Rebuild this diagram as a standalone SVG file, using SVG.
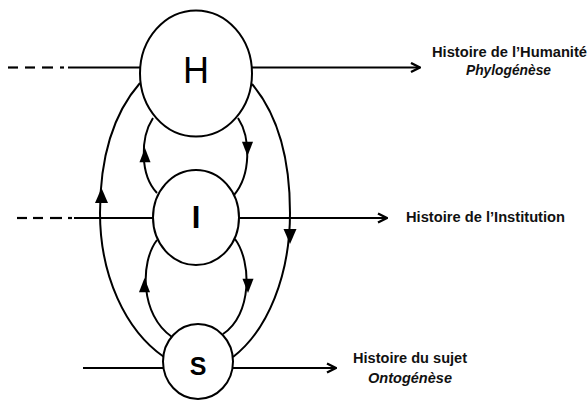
<svg xmlns="http://www.w3.org/2000/svg" width="587" height="400" viewBox="0 0 587 400">
<defs>
<style>
.ln{fill:none;stroke:#000;stroke-width:2}
.dash{fill:none;stroke:#000;stroke-width:2.2}
.node{fill:#fff;stroke:#000;stroke-width:2}
.ah{fill:#000;stroke:none}
.lbl{font-family:"Liberation Sans",Arial,sans-serif;font-weight:bold;font-size:14px;fill:#111}
.it{font-style:italic}
.big{font-family:"Liberation Sans",Arial,sans-serif;fill:#000;text-anchor:middle}
</style>
<marker id="open" viewBox="0 0 12 12" refX="11" refY="6" markerWidth="12" markerHeight="12" markerUnits="userSpaceOnUse" orient="auto">
<path d="M2,1.5 L11,6 L2,10.5" fill="none" stroke="#000" stroke-width="2.4"/>
</marker>
<path id="up" d="M0,0 L6.5,15 L-6.5,15 Z"/>
</defs>
<g id="connectors">
<line class="dash" x1="8" y1="67.5" x2="18" y2="67.5"/>
<line class="dash" x1="25" y1="67.5" x2="35" y2="67.5"/>
<line class="dash" x1="42" y1="67.5" x2="53" y2="67.5"/>
<line class="dash" x1="60" y1="67.5" x2="64" y2="67.5"/>
<line class="ln" x1="68" y1="67.5" x2="140" y2="67.5"/>
<line class="ln" x1="252" y1="67.5" x2="420" y2="67.5" marker-end="url(#open)"/>
<line class="dash" x1="17" y1="218" x2="27" y2="218"/>
<line class="dash" x1="33" y1="218" x2="43" y2="218"/>
<line class="dash" x1="50" y1="218" x2="62" y2="218"/>
<line class="dash" x1="68" y1="218" x2="72" y2="218"/>
<line class="ln" x1="74" y1="218" x2="153" y2="218"/>
<line class="ln" x1="239" y1="218" x2="387" y2="218" marker-end="url(#open)"/>
<line class="ln" x1="83" y1="368" x2="163" y2="368"/>
<line class="ln" x1="233" y1="368" x2="336" y2="368" marker-end="url(#open)"/>
<path class="ln" d="M140,83 C112,115 100,160 100,213 C100,275 125,330 164,357"/>
<path class="ln" d="M252,84 C278,115 290,160 290,213 C290,275 268,330 233,357"/>
<path class="ln" d="M153,118 C140,138 140,175 157,193"/>
<path class="ln" d="M238,118 C251,138 251,175 234,195"/>
<path class="ln" d="M157,240 C140,262 140,315 172,337"/>
<path class="ln" d="M235,239 C252,262 252,315 223,334"/>
<use href="#up" class="ah" transform="translate(101.5,188)"/>
<use href="#up" class="ah" transform="translate(290,244) rotate(180)"/>
<use href="#up" class="ah" transform="translate(145,148) scale(0.85,0.95)"/>
<use href="#up" class="ah" transform="translate(247.5,156) rotate(180) scale(0.85,0.95)"/>
<use href="#up" class="ah" transform="translate(144.5,278) scale(0.85,0.95)"/>
<use href="#up" class="ah" transform="translate(248,293) rotate(180) scale(0.85,0.95)"/>
</g>
<g id="node-H">
<ellipse class="node" cx="196" cy="73.5" rx="56" ry="63"/>
<text class="big" x="196" y="83" font-size="36">H</text>
</g>
<g id="node-I">
<ellipse class="node" cx="196" cy="217.5" rx="43" ry="47.5"/>
<text class="big" x="196" y="228" font-size="31" font-weight="bold">I</text>
</g>
<g id="node-S">
<ellipse class="node" cx="198" cy="361.5" rx="35" ry="37.5"/>
<text class="big" x="198" y="375" font-size="25" font-weight="bold">S</text>
</g>
<g id="labels">
<text class="lbl" x="432" y="57" textLength="155" lengthAdjust="spacingAndGlyphs">Histoire de l’Humanité</text>
<text class="lbl it" x="466" y="75" textLength="85" lengthAdjust="spacingAndGlyphs">Phylogénèse</text>
<text class="lbl" x="406" y="222" textLength="159" lengthAdjust="spacingAndGlyphs">Histoire de l’Institution</text>
<text class="lbl" x="353" y="363" textLength="114" lengthAdjust="spacingAndGlyphs">Histoire du sujet</text>
<text class="lbl it" x="368" y="383" textLength="84" lengthAdjust="spacingAndGlyphs">Ontogénèse</text>
</g>
</svg>
